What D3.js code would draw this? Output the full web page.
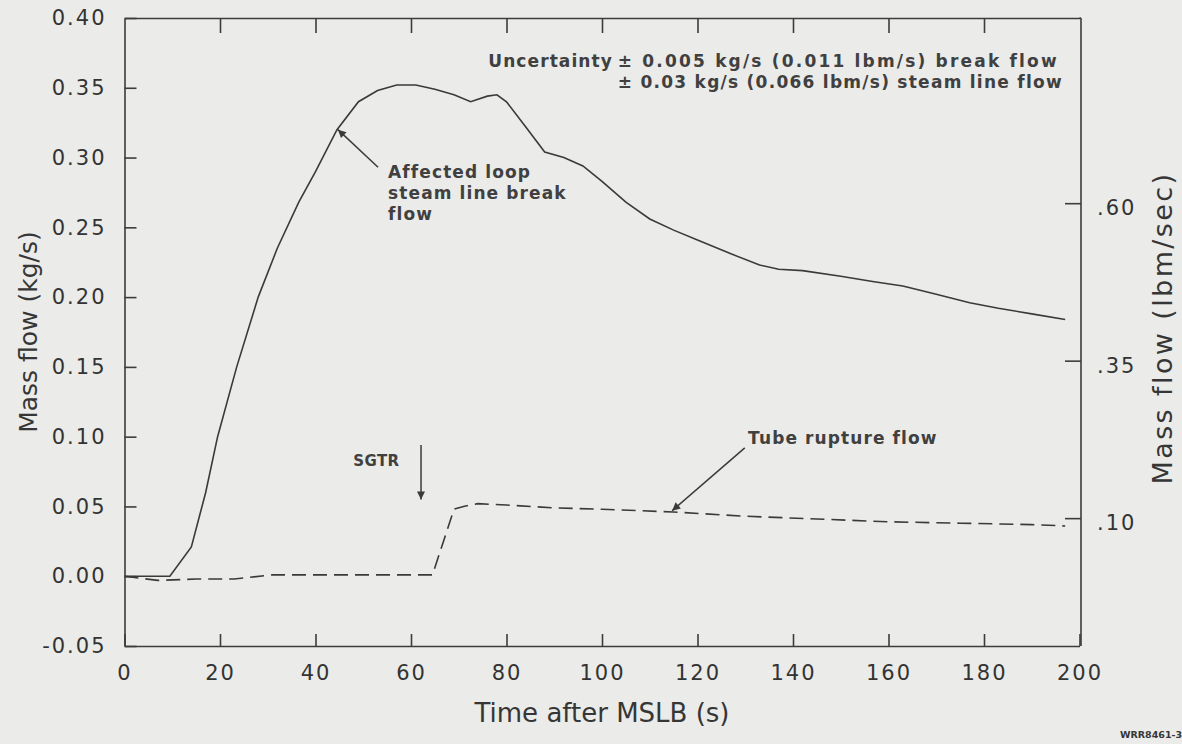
<!DOCTYPE html>
<html lang="en">
<head>
  <meta charset="UTF-8">
  <title>Mass flow after MSLB</title>
  <script src="https://d3js.org/d3.v7.min.js"></script>
  <style>
    body { margin: 0; background: #ebebe9; }
    svg { display: block; }
    text { font-family: "DejaVu Sans", sans-serif; fill: #363636; }
    .axis path, .axis line { stroke: #3c3c3c; stroke-width: 1.6px; }
    .axis text { font-size: 21px; letter-spacing: 2px; fill: #333; }
    .curve { fill: none; stroke: #3a3a3a; stroke-width: 1.6px; }
    .note { font-size: 17px; font-weight: bold; letter-spacing: 1.1px; fill: #404040; }
    .pointer { stroke: #3a3a3a; stroke-width: 1.5px; }
  </style>
</head>
<body>
  <svg></svg>
  <script>
    const WIDTH = 1182
    const HEIGHT = 744

    // steam line break flow (solid), kg/s
    const breakTime = [0, 9.5, 14, 17, 19.5, 23.5, 28, 32, 36.5, 40, 44.5, 49, 53, 57, 61, 65, 69, 72.5, 76, 78, 80, 84, 88, 92, 96, 100, 105, 110, 115, 120, 127, 133, 137, 142, 150, 157, 163, 170, 177, 183, 190, 197]
    const breakFlow = [0.000, 0.000, 0.021, 0.060, 0.100, 0.150, 0.200, 0.235, 0.268, 0.290, 0.320, 0.340, 0.348, 0.352, 0.352, 0.349, 0.345, 0.340, 0.344, 0.345, 0.340, 0.322, 0.304, 0.300, 0.294, 0.283, 0.268, 0.256, 0.248, 0.241, 0.231, 0.223, 0.220, 0.219, 0.215, 0.211, 0.208, 0.202, 0.196, 0.192, 0.188, 0.184]

    // tube rupture flow (dashed), kg/s
    const tubeTime = [0, 7, 15, 23, 31, 40, 50, 60, 64.5, 69, 71, 74, 80, 90, 100, 115, 130, 145, 160, 175, 190, 197]
    const tubeFlow = [0.000, -0.003, -0.002, -0.002, 0.001, 0.001, 0.001, 0.001, 0.001, 0.048, 0.050, 0.052, 0.051, 0.049, 0.048, 0.046, 0.043, 0.041, 0.039, 0.038, 0.037, 0.036]

    const xTicks = [0, 20, 40, 60, 80, 100, 120, 140, 160, 180, 200]
    const yTicks = [-0.05, 0.00, 0.05, 0.10, 0.15, 0.20, 0.25, 0.30, 0.35, 0.40]
    const lbmTicks = [0.10, 0.35, 0.60]

    const svg = d3.select('svg')
      .attr('width', WIDTH)
      .attr('height', HEIGHT)

    const x = d3.scaleLinear().domain([0, 200]).range([124.5, 1079.5])
    const y = d3.scaleLinear().domain([-0.05, 0.40]).range([646, 18])
    // right hand scale in lbm/sec (as drawn on the original)
    const yLbm = d3.scaleLinear().domain([-0.103, 0.894]).range([646, 18])

    const xRight = 1081
    const fmt2 = (d) => d3.format('.2f')(d).replace('\u2212', '-')

    // frame axes
    svg.append('g')
      .attr('class', 'axis')
      .attr('transform', `translate(0,${y(-0.05)})`)
      .call(d3.axisBottom(x).tickValues(xTicks).tickSizeInner(-12).tickSizeOuter(0).tickPadding(19).tickFormat(d3.format('d')))

    svg.append('g')
      .attr('class', 'axis')
      .attr('transform', `translate(0,${y(0.40)})`)
      .call(d3.axisTop(x).tickValues(xTicks.slice(1, -1)).tickSizeInner(-15).tickSizeOuter(0).tickFormat(''))

    svg.append('g')
      .attr('class', 'axis')
      .attr('transform', `translate(${x(0)},0)`)
      .call(d3.axisLeft(y).tickValues(yTicks).tickSizeInner(-12).tickSizeOuter(0).tickPadding(18).tickFormat(fmt2))

    const right = svg.append('g')
      .attr('class', 'axis')
      .attr('transform', `translate(${xRight},0)`)
      .call(d3.axisRight(yLbm).tickValues(lbmTicks).tickSizeInner(-16).tickSizeOuter(0).tickPadding(16)
        .tickFormat((d) => fmt2(d).replace(/^0/, '')))
    right.select('.domain').attr('d', `M0,${y(0.40)}V${y(-0.05)}`)
    right.selectAll('text').attr('dy', '0.55em')

    // close the top-right corner
    svg.append('line')
      .attr('x1', x(200)).attr('x2', xRight)
      .attr('y1', y(0.40)).attr('y2', y(0.40))
      .style('stroke', '#3c3c3c').style('stroke-width', '1.6px')

    // curves
    const line = d3.line()
      .x((d) => x(d[0]))
      .y((d) => y(d[1]))

    svg.append('path')
      .attr('class', 'curve')
      .attr('d', line(d3.zip(breakTime, breakFlow)))

    svg.append('path')
      .attr('class', 'curve')
      .attr('stroke-dasharray', '14,7')
      .attr('d', line(d3.zip(tubeTime, tubeFlow)))

    // axis titles
    svg.append('text')
      .attr('x', (x(0) + x(200)) / 2)
      .attr('y', 722)
      .attr('text-anchor', 'middle')
      .style('font-size', '26px')
      .text('Time after MSLB (s)')

    svg.append('text')
      .attr('transform', 'translate(37,332) rotate(-90)')
      .attr('text-anchor', 'middle')
      .style('font-size', '25px')
      .text('Mass flow (kg/s)')

    svg.append('text')
      .attr('transform', 'translate(1172,328) rotate(-90)')
      .attr('text-anchor', 'middle')
      .style('font-size', '27px')
      .style('letter-spacing', '2.4px')
      .text('Mass flow (lbm/sec)')

    // arrowheads
    svg.append('defs').append('marker')
      .attr('id', 'head')
      .attr('viewBox', '0 0 10 10')
      .attr('refX', 10).attr('refY', 5)
      .attr('markerWidth', 11).attr('markerHeight', 8)
      .attr('markerUnits', 'userSpaceOnUse')
      .attr('orient', 'auto')
      .append('path')
      .attr('d', 'M0,0L10,5L0,10Z')
      .attr('fill', '#3a3a3a')

    function pointer (from, to) {
      svg.append('line')
        .attr('class', 'pointer')
        .attr('x1', x(from[0])).attr('y1', y(from[1]))
        .attr('x2', x(to[0])).attr('y2', y(to[1]))
        .attr('marker-end', 'url(#head)')
    }

    // lines of a note; widths (optional) stretch each line to the width seen on the original
    function note (t, v, lines, anchor, widths) {
      const txt = svg.append('text')
        .attr('class', 'note')
        .attr('x', x(t))
        .attr('y', y(v))
        .attr('text-anchor', anchor || 'start')
      lines.forEach((s, i) => {
        const span = txt.append('tspan')
          .attr('x', x(t))
          .attr('dy', i === 0 ? 0 : 21)
          .text(s)
        if (widths) span.attr('textLength', widths[i]).attr('lengthAdjust', 'spacing')
      })
      return txt
    }

    // annotations
    note(55.2, 0.285, ['Affected loop', 'steam line break', 'flow'])
    pointer([53.1, 0.293], [44.7, 0.320])

    note(57.6, 0.079, ['SGTR'], 'end')
      .style('font-size', '15px')
      .style('letter-spacing', '0.4px')
    pointer([62.1, 0.094], [62.1, 0.055])

    note(130.6, 0.095, ['Tube rupture flow'])
    pointer([129.9, 0.092], [114.7, 0.047])

    note(102.3, 0.365, ['Uncertainty'], 'end')
    note(103.3, 0.365, ['\u00b1 0.005 kg/s (0.011 lbm/s) break flow', '\u00b1 0.03 kg/s (0.066 lbm/s) steam line flow'], 'start', [440, 445])

    svg.append('text')
      .attr('x', 1120)
      .attr('y', 738)
      .style('font-size', '9.5px')
      .style('font-weight', 'bold')
      .text('WRR8461-3')
  </script>
</body>
</html>
